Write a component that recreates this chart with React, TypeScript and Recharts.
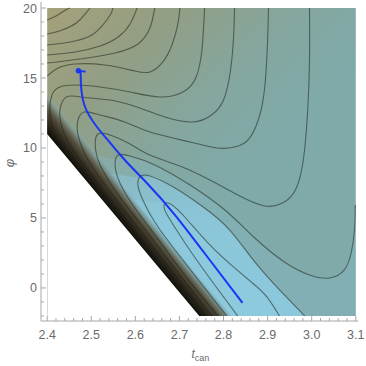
import {
  ComposedChart,
  XAxis,
  YAxis,
  Line,
  Area,
  Scatter,
  ReferenceArea,
} from "recharts";

const font = "'Liberation Sans', Arial, sans-serif";
const frameColor = "#a6a6a6";
const labelColor = "#6a6a6a";
const contourColor = "#1e241c";
const blue = "#1a35f5";

// axis ticks
const xMajorTicks = [2.4, 2.5, 2.6, 2.7, 2.8, 2.9, 3.0, 3.1];
const xMinorTicks = [
  2.42, 2.44, 2.46, 2.48, 2.52, 2.54, 2.56, 2.58, 2.62, 2.64, 2.66, 2.68,
  2.72, 2.74, 2.76, 2.78, 2.82, 2.84, 2.86, 2.88, 2.92, 2.94, 2.96, 2.98,
  3.02, 3.04, 3.06, 3.08,
];
const yMajorTicks = [0, 5, 10, 15, 20];
const yMinorTicks = [-2, -1, 1, 2, 3, 4, 6, 7, 8, 9, 11, 12, 13, 14, 16, 17, 18, 19];

// contour lines, [t, phi]
// upper left family (left edge -> top edge)
const contourA1 = [[2.4, 19.14], [2.42, 19.43], [2.438, 19.79], [2.451, 20.0]];
const contourA2 = [[2.4, 18.14], [2.434, 18.43], [2.466, 18.93], [2.486, 19.57], [2.497, 20.0]];
const contourA3 = [[2.4, 17.36], [2.452, 17.57], [2.497, 18.0], [2.524, 18.71], [2.543, 19.5], [2.549, 20.0]];
const contourA4 = [[2.4, 16.64], [2.463, 16.86], [2.52, 17.29], [2.561, 17.93], [2.588, 18.86], [2.604, 20.0]];
const contourA5 = [[2.4, 16.07], [2.475, 16.36], [2.554, 16.79], [2.606, 17.43], [2.633, 18.57], [2.644, 20.0]];
const contourA6 = [
  [2.4, 15.14], [2.425, 15.71], [2.463, 16.0], [2.531, 15.93], [2.599, 15.5],
  [2.633, 15.43], [2.662, 16.14], [2.683, 17.36], [2.696, 18.79], [2.701, 20.0],
];
// valley family (bottom / boundary -> tip -> right arm)
const contourU1 = [
  [2.832, -2.0], [2.78, 0.21], [2.728, 2.5], [2.692, 4.21], [2.671, 5.29], [2.665, 5.79],
  [2.669, 6.07], [2.683, 5.93], [2.712, 5.07], [2.769, 3.07], [2.825, 1.43], [2.871, 0.21],
  [2.9, -0.71], [2.927, -2.0],
];
const contourU2 = [
  [2.807, -2.0], [2.746, 0.43], [2.69, 2.71], [2.644, 4.71], [2.617, 6.29], [2.606, 7.29],
  [2.61, 7.93], [2.633, 8.0], [2.69, 7.14], [2.757, 5.71], [2.814, 4.14], [2.871, 1.86],
  [2.927, -0.14], [2.984, -2.0],
];
const contourU3 = [
  [2.787, -2.0], [2.724, 0.43], [2.656, 3.29], [2.599, 5.71], [2.565, 7.5], [2.554, 8.79],
  [2.561, 9.5], [2.588, 9.43], [2.644, 8.79], [2.724, 7.36], [2.803, 5.57], [2.871, 3.57],
  [2.938, 1.86], [2.995, 0.93], [3.04, 0.71], [3.074, 1.29], [3.09, 2.57], [3.097, 4.14],
  [3.099, 5.93],
];
const contourU4 = [
  [2.773, -2.0], [2.701, 0.93], [2.633, 3.71], [2.565, 6.5], [2.52, 8.79], [2.509, 10.21],
  [2.515, 11.0], [2.543, 10.93], [2.588, 10.29], [2.633, 9.5], [2.701, 8.71], [2.769, 7.71],
  [2.837, 6.57], [2.893, 5.86], [2.934, 6.07], [2.963, 7.0], [2.981, 9.14], [2.991, 12.71],
  [2.995, 16.29], [2.995, 20.0],
];
const contourU5 = [
  [2.764, -2.0], [2.69, 0.93], [2.61, 4.14], [2.543, 6.86], [2.493, 9.14], [2.47, 10.93],
  [2.47, 12.0], [2.484, 12.57], [2.52, 12.36], [2.576, 11.86], [2.633, 11.14], [2.724, 10.43],
  [2.785, 10.0], [2.825, 10.07], [2.859, 10.71], [2.884, 12.57], [2.895, 14.86], [2.9, 17.71],
  [2.902, 20.0],
];
const contourU6 = [
  [2.757, -2.0], [2.678, 0.93], [2.588, 4.5], [2.509, 7.71], [2.452, 10.21], [2.429, 12.14],
  [2.434, 13.29], [2.452, 13.71], [2.497, 13.57], [2.554, 13.36], [2.61, 12.86], [2.667, 12.21],
  [2.73, 11.86], [2.773, 12.36], [2.8, 13.43], [2.816, 15.57], [2.823, 18.07], [2.825, 20.0],
];
const contourU7 = [
  [2.753, -2.0], [2.667, 1.14], [2.565, 5.0], [2.475, 8.43], [2.425, 10.57], [2.407, 12.36],
  [2.411, 13.79], [2.429, 14.36], [2.463, 14.5], [2.52, 14.36], [2.588, 14.0], [2.656, 13.64],
  [2.708, 14.0], [2.737, 15.0], [2.751, 17.0], [2.757, 20.0],
];

const contours = [
  contourA1, contourA2, contourA3, contourA4, contourA5, contourA6,
  contourU1, contourU2, contourU3, contourU4, contourU5, contourU6, contourU7,
];

// blue trajectory and its starting point
const bluePath = [
  [2.487, 15.45], [2.477, 15.47], [2.476, 15.1], [2.477, 14.36], [2.486, 12.93],
  [2.513, 11.5], [2.543, 10.36], [2.576, 9.14], [2.626, 7.5], [2.69, 5.21],
  [2.767, 2.07], [2.843, -1.07],
];
const startPoint = [[2.471, 15.52]];

// shading outlines
const regionEdge = [[2.4, 11.0], [2.745, -2.0]];
const darkBandEdge = [[2.4, 14.02], [2.825, -2.0]];
const valleyOuter = [
  [2.4, 11.0], [2.45, 10.0], [2.5, 9.6], [2.554, 9.2], [2.58, 9.45], [2.62, 9.1],
  [2.66, 8.55], [2.7, 7.8], [2.74, 7.0], [2.787, 5.95], [2.83, 4.8], [2.87, 3.6],
  [2.94, 1.85], [3.0, 0.9], [3.04, 0.71], [3.07, 1.2], [3.09, 2.57], [3.099, 5.9],
];
const valleyMid = [
  [2.4, 9.0], [2.5, 8.4], [2.56, 8.1], [2.606, 7.9], [2.633, 8.0], [2.69, 7.14],
  [2.757, 5.71], [2.814, 4.14], [2.871, 1.86], [2.927, -0.14], [2.984, -2.0],
];
const valleyInner = [
  [2.45, 7.5], [2.55, 6.6], [2.62, 6.2], [2.669, 6.07], [2.683, 5.93], [2.712, 5.07],
  [2.769, 3.07], [2.825, 1.43], [2.871, 0.21], [2.9, -0.71], [2.927, -2.0],
];

const pts = (pairs: number[][]) => pairs.map(([t, phi]) => ({ t, phi }));
const isMajor = (v: number, majors: number[]) => majors.some((m) => Math.abs(m - v) < 1e-6);
const allX = [...xMajorTicks, ...xMinorTicks].sort((a, b) => a - b);
const allY = [...yMajorTicks, ...yMinorTicks].sort((a, b) => a - b);

const BottomTick = ({ x, y, payload }: any) => {
  const major = isMajor(payload.value, xMajorTicks);
  return (
    <g>
      <line x1={x} x2={x} y1={y} y2={y - (major ? 5 : 3)} stroke={frameColor} />
      {major && (
        <text x={x} y={y + 18} textAnchor="middle" fill={labelColor} fontSize={12.5} fontFamily={font}>
          {payload.value.toFixed(1)}
        </text>
      )}
    </g>
  );
};

const TopTick = ({ x, y, payload }: any) => {
  const major = isMajor(payload.value, xMajorTicks);
  return <line x1={x} x2={x} y1={y} y2={y + (major ? 5 : 3)} stroke={frameColor} />;
};

const LeftTick = ({ x, y, payload }: any) => {
  const major = isMajor(payload.value, yMajorTicks);
  return (
    <g>
      <line x1={x} x2={x + (major ? 5 : 3)} y1={y} y2={y} stroke={frameColor} />
      {major && (
        <text x={x - 4} y={y + 4.5} textAnchor="end" fill={labelColor} fontSize={12.5} fontFamily={font}>
          {payload.value}
        </text>
      )}
    </g>
  );
};

const RightTick = ({ x, y, payload }: any) => {
  const major = isMajor(payload.value, yMajorTicks);
  return <line x1={x} x2={x - (major ? 5 : 3)} y1={y} y2={y} stroke={frameColor} />;
};

const XTitle = ({ viewBox }: any) => (
  <text x={viewBox.x + viewBox.width / 2 - 8} y={viewBox.y + 37} fill={labelColor} fontFamily={font}>
    <tspan fontStyle="italic" fontSize={12}>t</tspan>
    <tspan fontSize={9} dy={3}>can</tspan>
  </text>
);

const YTitle = () => (
  <text
    x={9}
    y={163}
    transform="rotate(-90 9 163)"
    textAnchor="middle"
    dominantBaseline="central"
    fill={labelColor}
    fontSize={13}
    fontStyle="italic"
    fontFamily={font}
  >
    φ
  </text>
);

const StartDot = (p: any) => <circle cx={p.cx} cy={p.cy} r={2.8} fill={blue} />;

const xDomain = [2.386, 3.105];
const yDomain = [-2.36, 20.43];

export default function App() {
  return (
    <div style={{ width: 366, height: 366 }}>
      <style>{"body{margin:0}"}</style>
      <ComposedChart width={366} height={366} margin={{ top: 2, right: 8, bottom: 0, left: 0 }}>
        <defs>
          <linearGradient id="bgFill" x1="0" y1="0" x2="0.6" y2="0.6">
            <stop offset="0" stopColor="#a5a17a" />
            <stop offset="0.35" stopColor="#929e84" />
            <stop offset="0.7" stopColor="#84a7a0" />
            <stop offset="1" stopColor="#7faaa9" />
          </linearGradient>
          <linearGradient id="valleyFill" x1="0" y1="0" x2="0.7" y2="1">
            <stop offset="0" stopColor="#8cc8dc" stopOpacity={0.25} />
            <stop offset="0.55" stopColor="#8cc8dc" stopOpacity={0.9} />
            <stop offset="1" stopColor="#8cc8dc" stopOpacity={1} />
          </linearGradient>
          <linearGradient id="bandFill" gradientUnits="userSpaceOnUse" x1="123" y1="225" x2="143" y2="208.3">
            <stop offset="0" stopColor="#0e0c07" />
            <stop offset="0.2" stopColor="#221e15" />
            <stop offset="0.4" stopColor="#3a3426" />
            <stop offset="0.6" stopColor="#534e3d" />
            <stop offset="0.75" stopColor="#6a6e5e" stopOpacity={0.9} />
            <stop offset="0.9" stopColor="#7b9a9c" stopOpacity={0.55} />
            <stop offset="1" stopColor="#86b8c6" stopOpacity={0} />
          </linearGradient>
        </defs>

        <XAxis
          type="number"
          dataKey="t"
          domain={xDomain}
          allowDataOverflow
          ticks={allX}
          interval={0}
          tickSize={0}
          tickMargin={0}
          tickLine={false}
          tick={<BottomTick />}
          axisLine={{ stroke: frameColor }}
          height={45}
          label={{ content: XTitle }}
        />
        <XAxis
          xAxisId="top"
          orientation="top"
          type="number"
          dataKey="t"
          domain={xDomain}
          allowDataOverflow
          ticks={allX}
          interval={0}
          tickSize={0}
          tickMargin={0}
          tickLine={false}
          tick={<TopTick />}
          axisLine={{ stroke: frameColor }}
          height={0}
        />
        <YAxis
          type="number"
          domain={yDomain}
          allowDataOverflow
          ticks={allY}
          interval={0}
          tickSize={0}
          tickMargin={0}
          tickLine={false}
          tick={<LeftTick />}
          axisLine={{ stroke: frameColor }}
          width={41}
          label={{ content: YTitle }}
        />
        <YAxis
          yAxisId="right"
          orientation="right"
          type="number"
          domain={yDomain}
          allowDataOverflow
          ticks={allY}
          interval={0}
          tickSize={0}
          tickMargin={0}
          tickLine={false}
          tick={<RightTick />}
          axisLine={{ stroke: frameColor }}
          width={0}
        />

        <ReferenceArea x1={2.4} x2={3.1} y1={-2} y2={20} fill="url(#bgFill)" fillOpacity={1} stroke="none" />

        <Area data={pts(valleyOuter)} dataKey="phi" baseValue={-2} type="monotone" fill="#86bac6" fillOpacity={0.35} stroke="none" isAnimationActive={false} />
        <Area data={pts(valleyMid)} dataKey="phi" baseValue={-2} type="monotone" fill="url(#valleyFill)" fillOpacity={1} stroke="none" isAnimationActive={false} />
        <Area data={pts(valleyInner)} dataKey="phi" baseValue={-2} type="monotone" fill="#8ecbe0" fillOpacity={0.5} stroke="none" isAnimationActive={false} />
        <Area data={pts(darkBandEdge)} dataKey="phi" baseValue={-2} type="linear" fill="url(#bandFill)" fillOpacity={1} stroke="none" isAnimationActive={false} />
        <Area data={pts(regionEdge)} dataKey="phi" baseValue={-2} type="linear" fill="#ffffff" fillOpacity={1} stroke="none" isAnimationActive={false} />

        {contours.map((c, i) => (
          <Line
            key={i}
            data={pts(c)}
            dataKey="phi"
            type="natural"
            stroke={contourColor}
            strokeOpacity={0.55}
            strokeWidth={1.1}
            dot={false}
            activeDot={false}
            isAnimationActive={false}
          />
        ))}

        <Line data={pts(bluePath)} dataKey="phi" type="natural" stroke={blue} strokeWidth={2} dot={false} activeDot={false} isAnimationActive={false} />
        <Scatter data={pts(startPoint)} dataKey="phi" fill={blue} shape={StartDot} isAnimationActive={false} />
      </ComposedChart>
    </div>
  );
}
